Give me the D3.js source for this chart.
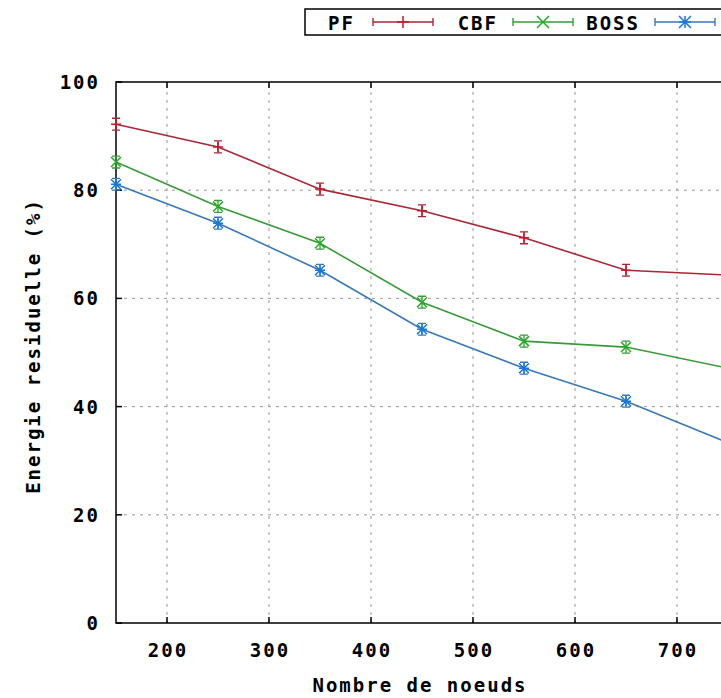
<!DOCTYPE html>
<html>
<head>
<meta charset="utf-8">
<script src="https://cdn.jsdelivr.net/npm/d3@7/dist/d3.min.js"></script>
<style>
  body { margin: 0; background: #fff; }
  svg text { font-family: "DejaVu Sans Mono", monospace; font-weight: bold; fill: #000; }
</style>
</head>
<body>
<svg id="chart" width="721" height="698"></svg>
<script>
const nodes = [150, 250, 350, 450, 550, 650, 750];
const pf   = [92.2, 88.0, 80.2, 76.2, 71.2, 65.2, 64.3];
const cbf  = [85.2, 77.0, 70.2, 59.3, 52.1, 51.0, 47.1];
const boss = [81.1, 73.9, 65.2, 54.3, 47.1, 41.0, 33.3];
const errSize = 1.1;
const xTicks = [200, 300, 400, 500, 600, 700];
const yTicks = [0, 20, 40, 60, 80, 100];
const seriesNames = ["PF", "CBF", "BOSS"];

const series = [
  {name: seriesNames[0], values: pf,   line: "#a82838", mark: "#c41a2a", type: "plus"},
  {name: seriesNames[1], values: cbf,  line: "#3a9a3a", mark: "#22aa22", type: "cross"},
  {name: seriesNames[2], values: boss, line: "#3a78b8", mark: "#1a78d8", type: "star"}
];

const svg = d3.select("#chart");
const L = 116, T = 82, B = 623, R = 830;
const x = d3.scaleLinear().domain([150, 850]).range([L, R]);
const y = d3.scaleLinear().domain([0, 100]).range([B, T]);
const gridX = xTicks.concat([800]);

// grid
const g = svg.append("g");
g.selectAll(".gx").data(gridX).enter().append("line")
  .attr("x1", d => x(d)).attr("x2", d => x(d)).attr("y1", B).attr("y2", T)
  .attr("stroke", "#999").attr("stroke-width", 1).attr("stroke-dasharray", "3,5");
g.selectAll(".gy").data(yTicks.filter(d => d > 0 && d < 100)).enter().append("line")
  .attr("x1", L).attr("x2", R).attr("y1", d => y(d)).attr("y2", d => y(d))
  .attr("stroke", "#999").attr("stroke-width", 1).attr("stroke-dasharray", "3,5");

// axes frame
svg.append("rect").attr("x", L).attr("y", T).attr("width", R - L).attr("height", B - T)
  .attr("fill", "none").attr("stroke", "#000").attr("stroke-width", 1.5);

// ticks
svg.selectAll(".tx").data(gridX).enter().append("line")
  .attr("x1", d => x(d)).attr("x2", d => x(d)).attr("y1", B).attr("y2", B - 6)
  .attr("stroke", "#000").attr("stroke-width", 1.5);
svg.selectAll(".tx2").data(gridX).enter().append("line")
  .attr("x1", d => x(d)).attr("x2", d => x(d)).attr("y1", T).attr("y2", T + 6)
  .attr("stroke", "#000").attr("stroke-width", 1.5);
svg.selectAll(".ty").data(yTicks).enter().append("line")
  .attr("x1", L).attr("x2", L + 6).attr("y1", d => y(d)).attr("y2", d => y(d))
  .attr("stroke", "#000").attr("stroke-width", 1.5);

const fontSize = 19, ls = 2;
// tick labels
svg.selectAll(".lx").data(xTicks).enter().append("text")
  .attr("x", d => x(d) + ls / 2).attr("y", 657).attr("text-anchor", "middle")
  .attr("font-size", fontSize).attr("letter-spacing", ls).text(d => d);
svg.selectAll(".ly").data(yTicks).enter().append("text")
  .attr("x", 100).attr("y", d => y(d) + 7).attr("text-anchor", "end")
  .attr("font-size", fontSize).attr("letter-spacing", ls).text(d => d);

// axis titles
svg.append("text").attr("x", 420).attr("y", 692).attr("text-anchor", "middle")
  .attr("font-size", fontSize).attr("letter-spacing", ls).text("Nombre de noeuds");
svg.append("text").attr("transform", "translate(40,346) rotate(-90)").attr("text-anchor", "middle")
  .attr("font-size", fontSize).attr("letter-spacing", ls).text("Energie residuelle (%)");

function marker(sel, cx, cy, type, color, r) {
  const p = d3.path();
  if (type === "plus" || type === "star") {
    p.moveTo(cx - r, cy); p.lineTo(cx + r, cy);
    p.moveTo(cx, cy - r); p.lineTo(cx, cy + r);
  }
  if (type === "cross" || type === "star") {
    p.moveTo(cx - r, cy - r); p.lineTo(cx + r, cy + r);
    p.moveTo(cx - r, cy + r); p.lineTo(cx + r, cy - r);
  }
  sel.append("path").attr("d", p.toString()).attr("stroke", color).attr("stroke-width", 1.5).attr("fill", "none");
}

const line = d3.line().x((d, i) => x(nodes[i])).y(d => y(d));
series.forEach(s => {
  const gs = svg.append("g");
  gs.append("path").datum(s.values).attr("d", line)
    .attr("fill", "none").attr("stroke", s.line).attr("stroke-width", 1.6);
  s.values.forEach((v, i) => {
    const cx = x(nodes[i]);
    const y1 = y(v + errSize), y2 = y(v - errSize);
    const ep = d3.path();
    ep.moveTo(cx, y1); ep.lineTo(cx, y2);
    ep.moveTo(cx - 4, y1); ep.lineTo(cx + 4, y1);
    ep.moveTo(cx - 4, y2); ep.lineTo(cx + 4, y2);
    gs.append("path").attr("d", ep.toString()).attr("stroke", s.line).attr("stroke-width", 1.3).attr("fill", "none");
    marker(gs, cx, y(v), s.type, s.mark, 5);
  });
});

// legend
svg.append("rect").attr("x", 305).attr("y", 9).attr("width", 460).attr("height", 26)
  .attr("fill", "#fff").attr("stroke", "#000").attr("stroke-width", 1.5);
const legendPos = [{tx: 355, lx: 373}, {tx: 498, lx: 513}, {tx: 640, lx: 655}];
series.forEach((s, i) => {
  const lp = legendPos[i];
  svg.append("text").attr("x", lp.tx).attr("y", 30).attr("text-anchor", "end")
    .attr("font-size", fontSize).attr("letter-spacing", ls).text(s.name);
  const lg = svg.append("g");
  const x1 = lp.lx, x2 = lp.lx + 60, ly = 22;
  const p = d3.path();
  p.moveTo(x1, ly); p.lineTo(x2, ly);
  p.moveTo(x1, ly - 4); p.lineTo(x1, ly + 4);
  p.moveTo(x2, ly - 4); p.lineTo(x2, ly + 4);
  lg.append("path").attr("d", p.toString()).attr("stroke", s.line).attr("stroke-width", 1.4).attr("fill", "none");
  marker(lg, (x1 + x2) / 2, ly, s.type, s.mark, 6);
});
</script>
</body>
</html>
